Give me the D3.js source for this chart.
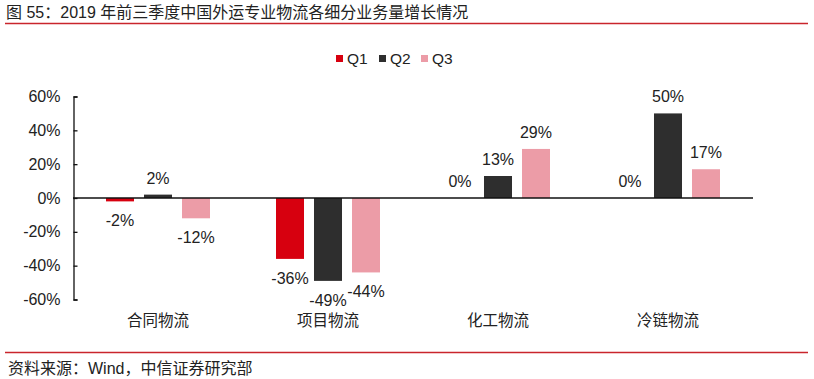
<!DOCTYPE html>
<html><head><meta charset="utf-8">
<script src="https://cdn.jsdelivr.net/npm/d3@7"></script>
<style>
body{margin:0;background:#fff;}
text{font-family:"Liberation Sans","Noto Sans CJK SC",Arial,sans-serif;}
</style></head>
<body><svg id="c" width="814" height="379"></svg>
<script>
const categories = ["合同物流","项目物流","化工物流","冷链物流"];
const seriesNames = ["Q1","Q2","Q3"];
const q1 = [-2, -36, 0, 0];
const q2 = [2, -49, 13, 50];
const q3 = [-12, -44, 29, 17];
const yTicks = [-60,-40,-20,0,20,40,60];
const colors = ["#D7000F","#2E2E2E","#EC9CA7"];
const titleText = "图 55：2019 年前三季度中国外运专业物流各细分业务量增长情况";
const sourceText = "资料来源：Wind，中信证券研究部";

const svg = d3.select("#c");
const values = [q1,q2,q3];

const groupW = 104;
const x0 = d3.scaleBand().domain(categories).range([73,753]).paddingInner(0).paddingOuter(0);
const x1 = d3.scaleBand().domain(seriesNames).range([0,groupW]).paddingInner(0.263).paddingOuter(0);
const y = d3.scaleLinear().domain([-60,60]).range([299.5,96.5]);

// title
svg.append("text").attr("x",6).attr("y",18).attr("font-size",16).attr("fill","#222").text(titleText);
svg.append("line").attr("x1",5).attr("x2",808).attr("y1",23.5).attr("y2",23.5).attr("stroke","#C9252C").attr("stroke-width",1.3);
// footer
svg.append("line").attr("x1",5).attr("x2",808).attr("y1",352.5).attr("y2",352.5).attr("stroke","#C9252C").attr("stroke-width",1.3);
svg.append("text").attr("x",8).attr("y",374).attr("font-size",16).attr("fill","#222").text(sourceText);

// legend
const leg = svg.append("g");
const legX = [336,379,421];
seriesNames.forEach((s,i)=>{
  leg.append("rect").attr("x",legX[i]).attr("y",55).attr("width",7).attr("height",7).attr("fill",colors[i]);
  leg.append("text").attr("x",legX[i]+11).attr("y",64).attr("font-size",15.5).attr("fill","#222").text(s);
});

// y axis
const yAxis = d3.axisLeft(y).tickValues(yTicks).tickFormat(d=>d+"%").tickSizeInner(-4).tickSizeOuter(-4).tickPadding(13);
const gy = svg.append("g").attr("transform","translate(73.5,0)").call(yAxis);
gy.selectAll("path,line").attr("stroke","#111").attr("stroke-width",1.3);
gy.selectAll("text").attr("font-size",16).attr("fill","#222").attr("font-family","Liberation Sans, Arial, sans-serif");

// bars
const offset = (x0.bandwidth()-groupW)/2;
seriesNames.forEach((s,i)=>{
  const g = svg.append("g");
  categories.forEach((c,j)=>{
    const v = values[i][j];
    const bx = x0(c)+offset+x1(s);
    g.append("rect").attr("x",bx).attr("width",x1.bandwidth())
      .attr("y",y(Math.max(0,v))).attr("height",Math.abs(y(v)-y(0))).attr("fill",colors[i]);
    const ly = v>=0 ? y(v)-11 : y(v)+25;
    g.append("text").attr("x",bx+x1.bandwidth()/2).attr("y",ly)
      .attr("text-anchor","middle").attr("font-size",16).attr("fill","#222").text(v+"%");
  });
});

// baseline
svg.append("line").attr("x1",73).attr("x2",753).attr("y1",y(0)).attr("y2",y(0)).attr("stroke","#111").attr("stroke-width",1.3);

// x axis labels
categories.forEach(c=>{
  svg.append("text").attr("x",x0(c)+x0.bandwidth()/2).attr("y",326).attr("text-anchor","middle")
    .attr("font-size",15.5).attr("fill","#222").attr("font-family","Noto Sans CJK SC, sans-serif").text(c);
});
</script></body></html>
